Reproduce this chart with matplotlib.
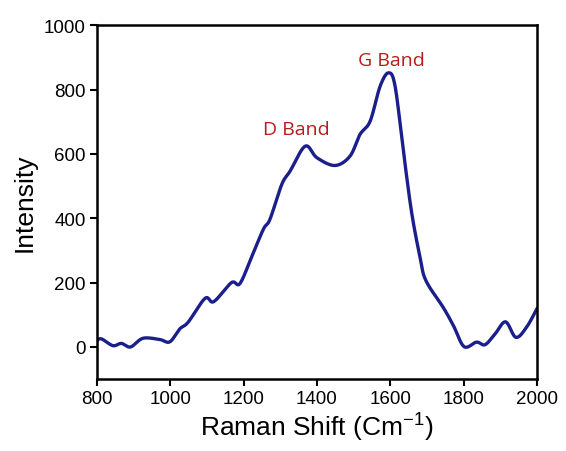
import matplotlib
matplotlib.use("Agg")
import matplotlib.pyplot as plt
import numpy as np

raman_shift = [800, 813, 844, 867, 892, 926, 972, 999, 1026, 1049, 1095, 1119, 1167, 1190,
               1222, 1254, 1272, 1304, 1327, 1368, 1400, 1449, 1490, 1517, 1545, 1572, 1595,
               1613, 1636, 1658, 1681, 1697, 1744, 1772, 1801, 1835, 1858, 1885, 1914, 1942,
               1971, 2000]
intensity = [20, 25, 4, 11, 0, 27, 23, 16, 56, 77, 151, 141, 200, 197,
             280, 366, 397, 505, 547, 624, 588, 564, 593, 660, 702, 810, 852,
             810, 604, 418, 278, 206, 123, 66, 1, 15, 7, 40, 78, 30,
             61, 120]

x_ticks = [800, 1000, 1200, 1400, 1600, 1800, 2000]
y_ticks = [0, 200, 400, 600, 800, 1000]
annotations = [("D Band", 1345, 676), ("G Band", 1602, 893)]

# smooth curve via Catmull-Rom interpolation through the read points
xs = np.array(raman_shift, float)
ys = np.array(intensity, float)
fx, fy = [], []
for i in range(len(xs) - 1):
    p0 = (xs[i - 1], ys[i - 1]) if i > 0 else (xs[i], ys[i])
    p1 = (xs[i], ys[i])
    p2 = (xs[i + 1], ys[i + 1])
    p3 = (xs[i + 2], ys[i + 2]) if i + 2 < len(xs) else (xs[i + 1], ys[i + 1])
    t = np.linspace(0, 1, 20, endpoint=False)
    for k in range(2):
        a, b, c, d = p0[k], p1[k], p2[k], p3[k]
        v = 0.5 * ((2 * b) + (-a + c) * t + (2 * a - 5 * b + 4 * c - d) * t**2 + (-a + 3 * b - 3 * c + d) * t**3)
        (fx if k == 0 else fy).extend(v)
fx.append(xs[-1]); fy.append(ys[-1])

plt.rcParams['font.family'] = ['Liberation Sans', 'DejaVu Sans']
fig = plt.figure(figsize=(5.66, 4.52), dpi=100)
ax = fig.add_axes([0.171, 0.159, 0.778, 0.783])
ax.plot(fx, fy, color='#1a1f8c', lw=2.4, solid_capstyle='round')
ax.set_xlim(800, 2000)
ax.set_ylim(-100, 1000)
ax.set_xticks(x_ticks)
ax.set_yticks(y_ticks)
ax.tick_params(labelsize=13.5, width=1.5, length=5, direction='out', pad=3)
for s in ax.spines.values():
    s.set_linewidth(1.8)
ax.set_xlabel('Raman Shift (Cm$^{\\mathregular{-1}}$)', fontsize=19, labelpad=1)
ax.set_ylabel('Intensity', fontsize=19, labelpad=5)
for txt, x, y in annotations:
    ax.text(x, y, txt, color='#b81c1c', fontsize=14, ha='center', va='center',
            family=['Open Sans', 'DejaVu Sans'])
fig.savefig('out.png', dpi=100)
